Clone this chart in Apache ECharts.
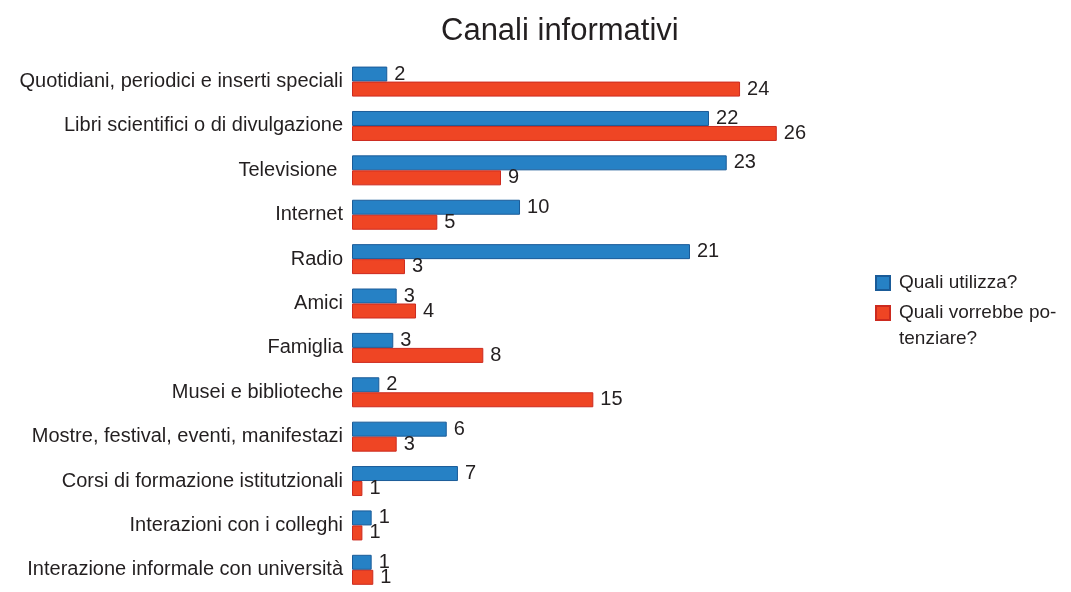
<!DOCTYPE html>
<html>
<head>
<meta charset="utf-8">
<style>
html,body{margin:0;padding:0;background:#fff;}
#chart{width:1071px;height:592px;}
</style>
<script src="https://cdn.jsdelivr.net/npm/echarts@6/dist/echarts.min.js"></script>
</head>
<body>
<div id="chart"></div>
<script>
var categories = [
  'Quotidiani, periodici e inserti speciali',
  'Libri scientifici o di divulgazione',
  'Televisione ',
  'Internet',
  'Radio',
  'Amici',
  'Famiglia',
  'Musei e biblioteche',
  'Mostre, festival, eventi, manifestazi',
  'Corsi di formazione istitutzionali',
  'Interazioni con i colleghi',
  'Interazione informale con università'
];
var seriesNames = ['Quali utilizza?', 'Quali vorrebbe potenziare?'];
var utilizza = [2.17, 21.97, 23.06, 10.34, 20.80, 2.75, 2.54, 1.68, 5.83, 6.52, 1.21, 1.21];
var potenziare = [23.88, 26.14, 9.17, 5.25, 3.26, 3.94, 8.08, 14.85, 2.75, 0.64, 0.64, 1.31];

var FONT = '"Liberation Sans", Arial, sans-serif';
var TXT = '#231f20';

var chart = echarts.init(document.getElementById('chart'), null, {renderer: 'canvas'});

function labelCfg() {
  return {
    show: true,
    position: 'right',
    distance: 7,
    color: TXT,
    fontFamily: FONT,
    fontSize: 20,
    formatter: function (p) { return Math.round(p.value); }
  };
}

chart.setOption({
  backgroundColor: '#ffffff',
  animation: false,
  title: {
    text: 'Canali informativi',
    left: 441,
    top: 16,
    padding: 0,
    textStyle: {fontFamily: FONT, fontSize: 31, fontWeight: 'normal', color: TXT}
  },
  legend: [
    {
      data: [seriesNames[0]],
      orient: 'vertical',
      left: 875,
      top: 270,
      padding: 0,
      itemWidth: 14,
      itemHeight: 14,
      icon: 'rect',
      textStyle: {fontFamily: FONT, fontSize: 19, color: TXT, lineHeight: 26, padding: [0, 0, 0, 4]}
    },
    {
      data: [seriesNames[1]],
      orient: 'vertical',
      left: 875,
      top: 274,
      padding: 0,
      itemWidth: 14,
      itemHeight: 14,
      icon: 'rect',
      formatter: function () { return '\nQuali vorrebbe po-\ntenziare?'; },
      textStyle: {fontFamily: FONT, fontSize: 19, color: TXT, lineHeight: 26, padding: [0, 0, 0, 4]}
    }
  ],
  grid: {
    left: 352,
    top: 59.4,
    width: 487.5,
    height: 542.5,
    containLabel: false
  },
  xAxis: {
    type: 'value',
    min: 0,
    max: 30,
    show: false
  },
  yAxis: {
    type: 'category',
    data: categories,
    inverse: true,
    axisLine: {show: false},
    axisTick: {show: false},
    splitLine: {show: false},
    axisLabel: {
      margin: 9,
      color: TXT,
      fontFamily: FONT,
      fontSize: 20
    }
  },
  series: [
    {
      name: seriesNames[0],
      type: 'bar',
      data: utilizza,
      barWidth: 15,
      barGap: '0%',
      itemStyle: {color: '#2681c5', borderColor: '#1a5b98', borderWidth: 1},
      label: labelCfg()
    },
    {
      name: seriesNames[1],
      type: 'bar',
      data: potenziare,
      barWidth: 15,
      barGap: '0%',
      itemStyle: {color: '#ef4524', borderColor: '#cc2a1f', borderWidth: 1},
      label: labelCfg()
    }
  ]
});
</script>
</body>
</html>
